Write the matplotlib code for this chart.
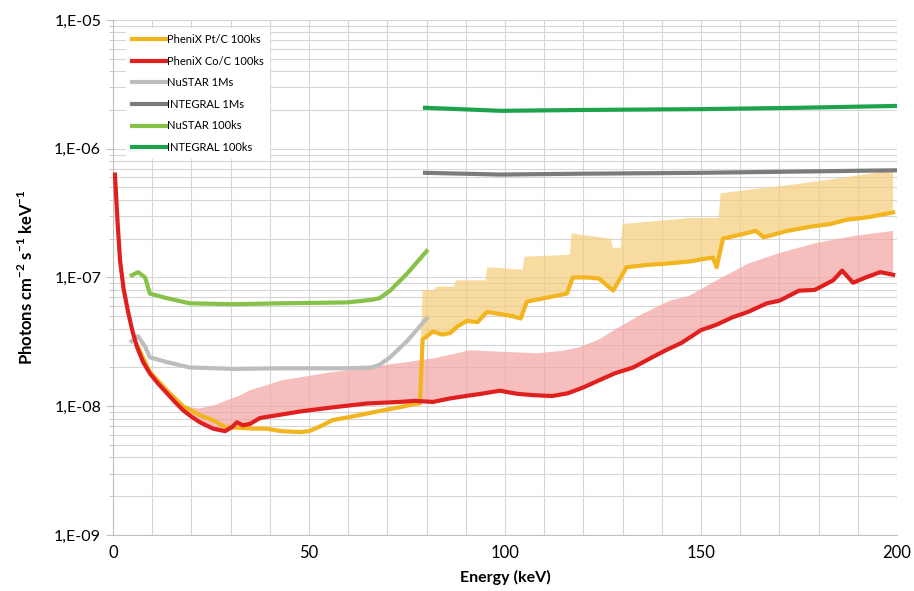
import numpy as np
import matplotlib
matplotlib.use("Agg")
import matplotlib.pyplot as plt
from matplotlib.ticker import MultipleLocator, LogLocator, FuncFormatter, NullFormatter

plt.rcParams['font.family'] = ['Lato', 'DejaVu Sans']
plt.rcParams['mathtext.fontset'] = 'custom'
plt.rcParams['mathtext.rm'] = 'Lato'
plt.rcParams['mathtext.bf'] = 'Lato:bold'

# PheniX Co/C 100ks (red)
e_coc = [0.5, 1.2, 1.8, 2.7, 3.8, 4.9, 6.1, 7.7, 9.4, 11.5, 13.8, 15.8, 17.9, 20, 22.2,
         25.5, 28.6, 30.4, 31.6, 33.2, 35.0, 37.5, 41.8, 47.7, 56, 64.8, 73.2, 77, 81.6,
         86, 90, 94, 98.7, 103, 107, 112, 116, 120, 124, 128, 132.7, 137, 141, 145, 150,
         154, 158, 162, 166.8, 170, 175, 179, 183.7, 186, 188.8, 192, 195.7, 199]
f_coc = [6.3e-7, 2.6e-7, 1.36e-7, 8.2e-8, 5.5e-8, 3.9e-8, 2.9e-8, 2.2e-8, 1.8e-8, 1.5e-8,
         1.26e-8, 1.08e-8, 9.3e-9, 8.3e-9, 7.5e-9, 6.7e-9, 6.4e-9, 6.9e-9, 7.5e-9, 7.1e-9,
         7.3e-9, 8.1e-9, 8.5e-9, 9.1e-9, 9.8e-9, 1.05e-8, 1.08e-8, 1.1e-8, 1.08e-8, 1.15e-8,
         1.2e-8, 1.25e-8, 1.32e-8, 1.25e-8, 1.22e-8, 1.2e-8, 1.26e-8, 1.4e-8, 1.59e-8,
         1.8e-8, 2.0e-8, 2.35e-8, 2.72e-8, 3.1e-8, 3.9e-8, 4.3e-8, 4.9e-8, 5.4e-8, 6.3e-8,
         6.6e-8, 7.9e-8, 8.0e-8, 9.5e-8, 1.13e-7, 9.1e-8, 1.0e-7, 1.1e-7, 1.05e-7]
# upper edge of the Co/C error band
e_coc_up = [13.8, 18, 22, 26, 29, 32, 35, 39, 43, 50, 56, 63, 69, 75, 82, 91, 99, 108, 115,
            119, 124, 129, 135, 142, 147, 154, 162, 170, 179, 189, 199]
f_coc_up = [1.3e-8, 1.0e-8, 0.96e-8, 1.02e-8, 1.11e-8, 1.2e-8, 1.33e-8, 1.45e-8, 1.59e-8,
            1.72e-8, 1.84e-8, 1.95e-8, 2.08e-8, 2.2e-8, 2.36e-8, 2.72e-8, 2.65e-8, 2.58e-8,
            2.7e-8, 2.87e-8, 3.3e-8, 4.1e-8, 5.2e-8, 6.6e-8, 7.2e-8, 9.5e-8, 1.28e-7, 1.55e-7,
            1.84e-7, 2.1e-7, 2.3e-7]

# PheniX Pt/C 100ks (yellow)
e_ptc = [6.1, 9.4, 13.8, 17.9, 22.2, 25.5, 28.6, 32, 36, 39, 43, 47.7, 50, 53, 56, 60, 65,
         69, 73, 77.5, 78.3, 79, 81.6, 84, 86, 88, 90.3, 93, 95.4, 98.7, 102, 104, 105.6,
         110, 115.8, 117.3, 121, 124, 127.6, 131, 136, 141, 147, 153, 154, 155.6, 160, 164,
         166, 172, 178.6, 183, 187, 193, 199]
f_ptc = [3.0e-8, 1.85e-8, 1.32e-8, 1.0e-8, 8.5e-9, 7.8e-9, 6.9e-9, 6.8e-9, 6.7e-9, 6.7e-9,
         6.4e-9, 6.3e-9, 6.4e-9, 7.0e-9, 7.8e-9, 8.2e-9, 8.8e-9, 9.3e-9, 9.8e-9, 1.05e-8,
         1.05e-8, 3.3e-8, 3.8e-8, 3.6e-8, 3.7e-8, 4.2e-8, 4.6e-8, 4.5e-8, 5.4e-8, 5.2e-8,
         5.0e-8, 4.8e-8, 6.5e-8, 6.9e-8, 7.5e-8, 1.0e-7, 1.0e-7, 9.8e-8, 7.9e-8, 1.2e-7,
         1.25e-7, 1.28e-7, 1.33e-7, 1.43e-7, 1.2e-7, 2.0e-7, 2.15e-7, 2.3e-7, 2.05e-7, 2.3e-7,
         2.5e-7, 2.6e-7, 2.8e-7, 2.95e-7, 3.2e-7]
# upper edge of the Pt/C error band
e_ptc_up = [78.5, 79, 82, 82.5, 87, 87.5, 95, 95.5, 104.5, 105, 116.5, 117, 127, 127.5,
            129.5, 130, 142, 147, 154.5, 155, 162, 170, 178, 187, 193, 199]
f_ptc_up = [3.3e-8, 8.0e-8, 8.0e-8, 8.5e-8, 8.5e-8, 9.5e-8, 9.5e-8, 1.2e-7, 1.15e-7, 1.45e-7,
            1.5e-7, 2.2e-7, 2.0e-7, 1.7e-7, 1.7e-7, 2.6e-7, 2.8e-7, 2.9e-7, 2.9e-7, 4.5e-7,
            4.8e-7, 5.1e-7, 5.5e-7, 6.0e-7, 6.4e-7, 6.8e-7]

# NuSTAR
e_nu = [4.8, 6.4, 8.2, 9.4, 13.8, 19.6, 30.6, 42.6, 59.7, 66, 68, 70.7, 75, 80]
f_nu1m = [3.2e-8, 3.5e-8, 2.9e-8, 2.4e-8, 2.2e-8, 2.0e-8, 1.95e-8, 1.97e-8, 1.97e-8,
          2.0e-8, 2.1e-8, 2.4e-8, 3.2e-8, 4.8e-8]
f_nu100k = [1.04e-7, 1.1e-7, 1.0e-7, 7.5e-8, 6.9e-8, 6.3e-8, 6.2e-8, 6.3e-8, 6.4e-8,
            6.7e-8, 6.9e-8, 7.9e-8, 1.07e-7, 1.6e-7]

# INTEGRAL
e_int = [79.6, 99, 120, 150, 175, 200]
f_int1m = [6.5e-7, 6.3e-7, 6.4e-7, 6.5e-7, 6.65e-7, 6.8e-7]
f_int100k = [2.08e-6, 1.97e-6, 2.0e-6, 2.03e-6, 2.08e-6, 2.15e-6]

YELLOW = '#F2B51F'
RED = '#E0201F'

fig = plt.figure(figsize=(9.14, 5.91), dpi=100)
ax = fig.add_axes([0.1236, 0.0948, 0.8578, 0.8714])
ax.set_yscale('log')
ax.set_xlim(0, 200)
ax.set_ylim(1e-9, 1e-5)

# error bands drawn as polygons: upper edge then the curve back
i0 = e_coc.index(13.8)
ax.fill(e_coc_up + e_coc[i0:][::-1], f_coc_up + f_coc[i0:][::-1],
        color='#F4A3A3', alpha=0.7, lw=0, zorder=2)
j0 = e_ptc.index(78.3)
ax.fill(e_ptc_up + e_ptc[j0:][::-1], f_ptc_up + f_ptc[j0:][::-1],
        color='#F6CD7A', alpha=0.7, lw=0, zorder=2)

ax.plot(e_ptc, f_ptc, color=YELLOW, lw=3, label='PheniX Pt/C 100ks', zorder=4)
ax.plot(e_coc, f_coc, color=RED, lw=3, label='PheniX Co/C 100ks', zorder=5)
ax.plot(e_nu, f_nu1m, color='#BDBDBD', lw=3, label='NuSTAR 1Ms', zorder=3)
ax.plot(e_int, f_int1m, color='#7B7B7B', lw=3, label='INTEGRAL 1Ms', zorder=3)
ax.plot(e_nu, f_nu100k, color='#86C148', lw=3, label='NuSTAR 100ks', zorder=3)
ax.plot(e_int, f_int100k, color='#1FA24C', lw=3, label='INTEGRAL 100ks', zorder=3)

ax.xaxis.set_major_locator(MultipleLocator(50))
ax.xaxis.set_minor_locator(MultipleLocator(10))
ax.yaxis.set_major_locator(LogLocator(base=10, numticks=10))
ax.yaxis.set_minor_locator(LogLocator(base=10, subs=np.arange(2, 10), numticks=10))
ax.yaxis.set_minor_formatter(NullFormatter())
ax.yaxis.set_major_formatter(FuncFormatter(lambda v, p: f"1,E-{int(round(-np.log10(v))):02d}"))

ax.grid(which='both', color='#D6D6D6', lw=0.8, zorder=0)
ax.set_axisbelow(True)
for s in ['top', 'right']:
    ax.spines[s].set_visible(False)
for s in ['left', 'bottom']:
    ax.spines[s].set_color('#BFBFBF')
ax.tick_params(axis='x', which='both', length=0, labelsize=12, pad=7)
ax.tick_params(axis='y', which='major', length=5, color='#BFBFBF', labelsize=11.5)
ax.tick_params(axis='y', which='minor', length=3, color='#BFBFBF')

ax.set_xlabel('Energy (keV)', fontsize=11.5, fontweight='bold', labelpad=7)
ax.set_ylabel('Photons cm$^{\\mathbf{-2}}$ s$^{\\mathbf{-1}}$ keV$^{\\mathbf{-1}}$',
              fontsize=12, fontweight='bold', labelpad=13)

leg = ax.legend(loc='upper left', bbox_to_anchor=(0.01, 0.995), fontsize=8,
                frameon=True, framealpha=1, edgecolor='none', facecolor='white',
                handlelength=3.0, handletextpad=0.1, labelspacing=0.95, borderpad=0.55)

fig.savefig('out.png', dpi=100)
